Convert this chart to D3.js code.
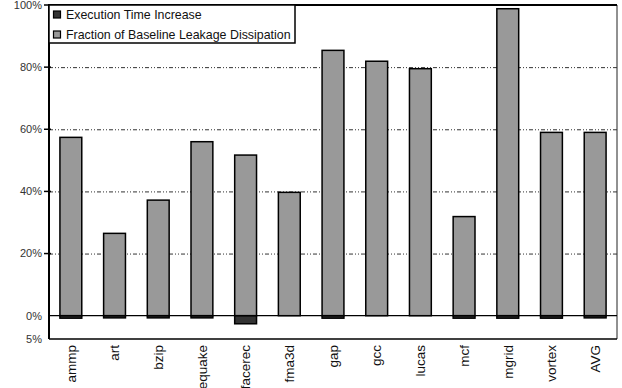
<!DOCTYPE html>
<html>
<head>
<meta charset="utf-8">
<script src="https://cdn.jsdelivr.net/npm/d3@7"></script>
<style>
  html, body { margin: 0; padding: 0; background: #fff; }
  svg { display: block; font-family: "Liberation Sans", Arial, sans-serif; }
</style>
</head>
<body>
<svg id="chart" width="622" height="388"></svg>
<script>
// Benchmarks along the x axis
const benchmarks = ["ammp", "art", "bzip", "equake", "facerec", "fma3d", "gap", "gcc", "lucas", "mcf", "mgrid", "vortex", "AVG"];

// Fraction of baseline leakage dissipation (%)
const leakageFraction = [57.4, 26.5, 37.2, 56.0, 51.7, 39.7, 85.4, 81.9, 79.5, 31.9, 98.8, 59.0, 59.0];

// Execution time increase (%), drawn below the zero line
const execIncrease = [0.8, 0.7, 0.7, 0.7, 2.6, 0.0, 0.8, 0.0, 0.0, 0.8, 0.8, 0.8, 0.7];

// Y axis ticks and their labels
const yTickValues = [-7.5, 0, 20, 40, 60, 80, 100];
const yTickLabels = ["5%", "0%", "20%", "40%", "60%", "80%", "100%"];
const gridValues = [20, 40, 60, 80];
const tickMarkValues = [20, 40, 60, 80, 100];

const seriesNames = ["Execution Time Increase", "Fraction of Baseline Leakage Dissipation"];
const seriesColors = ["#333333", "#999999"];

const margin = { left: 49, right: 5, top: 5, bottom: 49 };
const W = 622, H = 388;
const svg = d3.select("#chart");

const x = d3.scaleBand()
  .domain(benchmarks)
  .range([margin.left, W - margin.right])
  .paddingInner(0.5)
  .paddingOuter(0.25);

const y = d3.scaleLinear()
  .domain([-7.5, 100])
  .range([H - margin.bottom, margin.top]);

// Right edge of the plot frame (thin)
svg.append("line")
  .attr("x1", W - margin.right).attr("x2", W - margin.right)
  .attr("y1", y(100)).attr("y2", y(-7.5))
  .attr("stroke", "#222").attr("stroke-width", 1);

// Dotted gridlines
svg.append("g").selectAll("line")
  .data(gridValues)
  .join("line")
  .attr("x1", margin.left).attr("x2", W - margin.right)
  .attr("y1", d => y(d) + 0.5).attr("y2", d => y(d) + 0.5)
  .attr("stroke", "#333")
  .attr("stroke-width", 1)
  .attr("stroke-dasharray", "4,2,1,2,1,2");

// Leakage bars (above zero)
svg.append("g").selectAll("rect")
  .data(benchmarks)
  .join("rect")
  .attr("x", d => x(d))
  .attr("width", x.bandwidth())
  .attr("y", (d, i) => y(leakageFraction[i]))
  .attr("height", (d, i) => y(0) - y(leakageFraction[i]))
  .attr("fill", seriesColors[1])
  .attr("stroke", "#000")
  .attr("stroke-width", 1.5);

// Execution time bars (below zero)
svg.append("g").selectAll("rect")
  .data(benchmarks.filter((d, i) => execIncrease[i] > 0))
  .join("rect")
  .attr("x", d => x(d))
  .attr("width", x.bandwidth())
  .attr("y", y(0))
  .attr("height", d => y(-execIncrease[benchmarks.indexOf(d)]) - y(0))
  .attr("fill", seriesColors[0])
  .attr("stroke", "#000")
  .attr("stroke-width", 1.5);

// Zero line
svg.append("line")
  .attr("x1", margin.left).attr("x2", W - margin.right)
  .attr("y1", y(0)).attr("y2", y(0))
  .attr("stroke", "#000").attr("stroke-width", 1.2);

// Top and bottom frame lines
svg.append("line")
  .attr("x1", margin.left).attr("x2", W - margin.right)
  .attr("y1", y(100)).attr("y2", y(100))
  .attr("stroke", "#000").attr("stroke-width", 2);
svg.append("line")
  .attr("x1", margin.left).attr("x2", W - margin.right)
  .attr("y1", y(-7.5)).attr("y2", y(-7.5))
  .attr("stroke", "#000").attr("stroke-width", 1.5);

// Left axis line
svg.append("line")
  .attr("x1", margin.left).attr("x2", margin.left)
  .attr("y1", y(100) - 1).attr("y2", y(-7.5))
  .attr("stroke", "#000").attr("stroke-width", 2);

// Y tick marks crossing the axis
svg.append("g").selectAll("line")
  .data(tickMarkValues)
  .join("line")
  .attr("x1", margin.left - 5).attr("x2", margin.left + 2)
  .attr("y1", d => y(d)).attr("y2", d => y(d))
  .attr("stroke", "#000").attr("stroke-width", 1.5);

// Y tick labels
svg.append("g").selectAll("text")
  .data(yTickValues)
  .join("text")
  .attr("x", margin.left - 7)
  .attr("y", d => y(d))
  .attr("dy", "0.35em")
  .attr("text-anchor", "end")
  .attr("font-size", 11)
  .attr("fill", "#333")
  .text((d, i) => yTickLabels[i]);

// X labels, rotated to read bottom-up
svg.append("g").selectAll("text")
  .data(benchmarks)
  .join("text")
  .attr("transform", d => "translate(" + (x(d) + x.bandwidth() / 2) + "," + (y(-7.5) + 6) + ") rotate(-90)")
  .attr("dy", "0.35em")
  .attr("text-anchor", "end")
  .attr("font-size", 13.5)
  .attr("fill", "#111")
  .text(d => d);

// Legend box
const legend = svg.append("g");
legend.append("rect")
  .attr("x", margin.left).attr("y", y(100))
  .attr("width", 246).attr("height", 38)
  .attr("fill", "#fff")
  .attr("stroke", "#000").attr("stroke-width", 1.5);
const items = legend.selectAll("g.item")
  .data(seriesNames)
  .join("g")
  .attr("class", "item")
  .attr("transform", (d, i) => "translate(" + (margin.left + 4) + "," + (y(100) + 10 + i * 20) + ")");
items.append("rect")
  .attr("x", 0.5).attr("y", -4)
  .attr("width", 7).attr("height", 7)
  .attr("fill", (d, i) => seriesColors[i])
  .attr("stroke", "#000").attr("stroke-width", 1.2);
items.append("text")
  .attr("x", 13).attr("y", 0)
  .attr("dy", "0.35em")
  .attr("font-size", 12.4)
  .attr("fill", "#111")
  .text(d => d);
</script>
</body>
</html>
